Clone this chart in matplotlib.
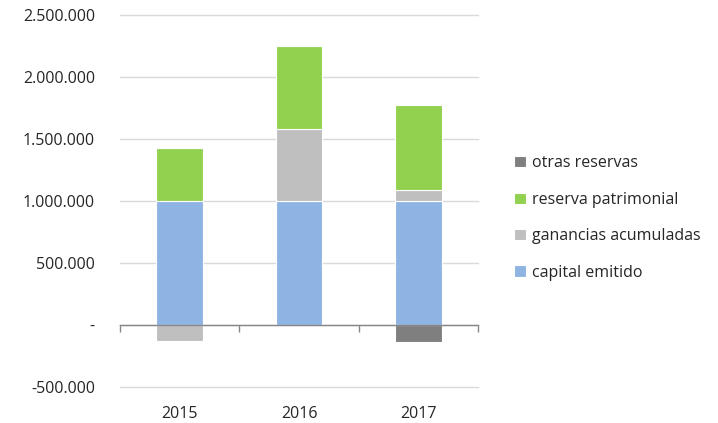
import matplotlib
matplotlib.use("Agg")
import matplotlib.pyplot as plt
from matplotlib.ticker import FuncFormatter, MultipleLocator, FixedLocator
import matplotlib.transforms as mtransforms
import numpy as np

plt.rcParams['font.family'] = ['Open Sans', 'DejaVu Sans']

categories = ["2015", "2016", "2017"]
series_names = ["capital emitido", "ganancias acumuladas", "reserva patrimonial", "otras reservas"]
capital_emitido = [1000000, 1000000, 1000000]
ganancias_acumuladas = [-130000, 580000, 89000]
reserva_patrimonial = [427000, 670000, 685000]
otras_reservas = [0, 0, -137000]
colors = ["#8EB4E3", "#BFBFBF", "#92D050", "#7F7F7F"]

data = [capital_emitido, ganancias_acumuladas, reserva_patrimonial, otras_reservas]
text_color = "#262626"

fig = plt.figure(figsize=(7.18, 4.23), dpi=100)
ax = fig.add_axes([120/718, 1-387/423, (478-120)/718, (387-15)/423])

x = np.arange(len(categories))
pos_base = np.zeros(len(categories))
neg_base = np.zeros(len(categories))
handles = []
for name, vals, c in zip(series_names, data, colors):
    v = np.array(vals, dtype=float)
    bottom = np.where(v >= 0, pos_base, neg_base)
    h = ax.bar(x, v, 0.39, bottom=bottom, color=c, edgecolor="white", linewidth=0.8,
               label=name, zorder=3)
    handles.append(h)
    pos_base = pos_base + np.where(v > 0, v, 0)
    neg_base = neg_base + np.where(v < 0, v, 0)

ax.set_xlim(-0.5, len(categories) - 0.5)
ax.set_ylim(-500000, 2500000)
ax.yaxis.set_major_locator(MultipleLocator(500000))

def fmt(v, pos):
    if abs(v) < 1:
        return "-"
    s = f"{int(round(v)):,}".replace(",", ".")
    return s
ax.yaxis.set_major_formatter(FuncFormatter(fmt))
ax.tick_params(axis="y", length=0, pad=18, labelsize=11.5, colors=text_color)
ax.grid(axis="y", color="#D9D9D9", linewidth=1, zorder=0)
for gl in ax.get_ygridlines():
    gl.set_clip_on(False)
ax.set_axisbelow(True)

for s in ["top", "right", "left"]:
    ax.spines[s].set_visible(False)
ax.spines["bottom"].set_position(("data", 0))
ax.spines["bottom"].set_color("#868686")
ax.spines["bottom"].set_linewidth(1)
ax.spines["bottom"].set_zorder(4)
ax.xaxis.set_major_locator(FixedLocator(x))
ax.xaxis.set_major_formatter(FuncFormatter(lambda v, p: ""))
ax.tick_params(axis="x", which="major", length=0)
ax.xaxis.set_minor_locator(FixedLocator(np.arange(len(categories) + 1) - 0.5))
ax.tick_params(axis="x", which="minor", length=5, color="#868686", width=1, direction="out")

trans = mtransforms.blended_transform_factory(ax.transData, ax.transAxes)
for xi, cat in zip(x, categories):
    ax.text(xi, -0.072, cat, transform=trans, ha="center", va="center",
            fontsize=11.5, color=text_color)

leg = fig.legend(handles[::-1], series_names[::-1], loc="center left",
                 bbox_to_anchor=(500/718, 1-218/423), frameon=False,
                 fontsize=11.5, labelspacing=1.28, handlelength=0.7, handleheight=0.7,
                 handletextpad=0.4, labelcolor=text_color)

fig.savefig("out.png", dpi=100)
